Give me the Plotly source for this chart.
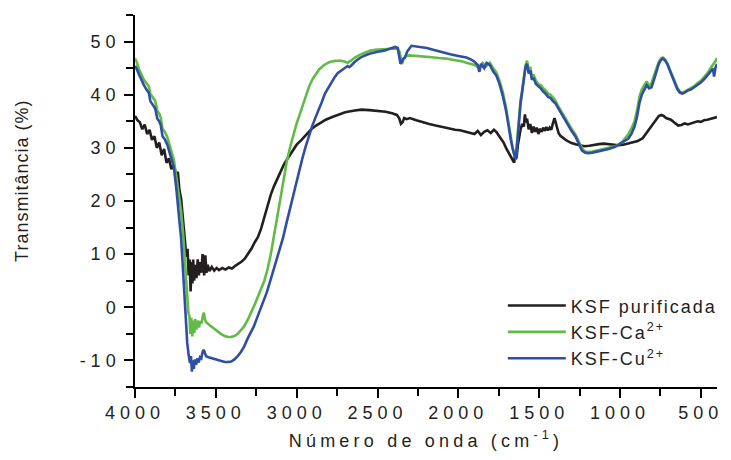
import plotly.graph_objects as go

# ---------------- data ----------------
x_black = [4000, 3985, 3970, 3955, 3940, 3925, 3910, 3895, 3880, 3865, 3850, 3835, 3820, 3805, 3790, 3775,
           3760, 3745, 3735, 3725, 3715, 3705, 3700, 3690, 3682, 3675, 3668, 3662, 3656, 3650, 3645, 3640,
           3634, 3628, 3620, 3612, 3605, 3598, 3590, 3582, 3572, 3565, 3558, 3550, 3540, 3525, 3510, 3495,
           3480, 3460, 3440, 3420, 3400, 3380, 3360, 3340, 3320, 3300, 3280, 3260, 3240, 3220, 3200, 3180,
           3160, 3140, 3120, 3100, 3080, 3060, 3040, 3020, 3000, 2970, 2940, 2910, 2880, 2850, 2820, 2780,
           2740, 2700, 2650, 2600, 2550, 2500, 2450, 2410, 2380, 2365, 2355, 2345, 2335, 2320, 2300, 2260,
           2220, 2180, 2140, 2100, 2060, 2020, 1990, 1960, 1930, 1900, 1880, 1860, 1840, 1820, 1800, 1780,
           1765, 1750, 1735, 1720, 1705, 1690, 1675, 1665, 1655, 1648, 1640, 1632, 1625, 1615, 1605, 1595,
           1588, 1582, 1575, 1565, 1555, 1545, 1535, 1525, 1515, 1505, 1495, 1485, 1475, 1465, 1455, 1445,
           1435, 1425, 1415, 1405, 1398, 1390, 1380, 1370, 1355, 1340, 1320, 1300, 1275, 1250, 1220, 1190,
           1160, 1130, 1100, 1070, 1040, 1010, 980, 950, 920, 890, 860, 840, 820, 805, 790, 775, 760, 745,
           730, 715, 700, 685, 670, 655, 640, 620, 600, 580, 560, 540, 520, 500, 480, 460, 440, 420, 400]
y_black = [36.0, 35.2, 34.8, 33.5, 34.4, 32.6, 33.4, 31.5, 32.2, 30.0, 31.0, 28.6, 29.8, 27.2, 28.0, 26.0,
           26.8, 24.8, 25.5, 22.0, 20.5, 17.0, 14.5, 12.0, 9.5, 11.0, 6.0, 9.0, 3.0, 8.5, 4.5, 9.0,
           5.0, 8.0, 5.5, 9.0, 6.0, 8.5, 6.5, 10.0, 6.0, 9.8, 6.5, 8.0, 6.8, 7.6, 6.9, 7.4,
           7.0, 7.4, 7.1, 7.5, 7.3, 7.8, 8.2, 8.6, 9.2, 10.0, 11.0, 12.2, 13.2, 14.8, 17.0, 19.2,
           21.2, 22.8, 24.2, 25.6, 26.8, 27.8, 28.8, 29.8, 30.6, 31.5, 32.6, 33.5, 34.2, 34.8, 35.3, 35.8,
           36.3, 36.7, 37.0, 37.2, 37.1, 37.0, 36.8, 36.5, 36.2, 35.5, 34.5, 34.8, 35.6, 35.4, 35.6, 35.2,
           34.8, 34.5, 34.2, 33.9, 33.7, 33.4, 33.3, 33.1, 32.8, 32.6, 33.2, 32.4, 33.0, 33.3, 32.8, 33.4,
           33.0, 32.3, 31.5, 31.0, 30.0, 29.2, 28.5, 27.8, 27.2, 29.0, 28.0, 30.5, 32.0, 33.5, 34.5, 34.0,
           36.3, 34.8, 35.5, 33.5, 34.5, 32.8, 34.0, 33.0, 33.8, 32.6, 33.6, 33.0, 33.8, 33.2, 33.9, 33.3,
           33.8, 33.4, 34.6, 35.6, 34.8, 33.6, 32.8, 32.3, 31.9, 31.6, 31.2, 30.9, 30.7, 30.5, 30.3, 30.4,
           30.6, 30.7, 30.8, 30.7, 30.6, 30.5, 30.6, 30.8, 31.0, 31.3, 31.8, 32.6, 33.5, 34.0, 34.6, 35.4, 36.0, 36.2,
           36.0, 35.6, 35.5, 35.3, 34.9, 34.5, 34.2, 34.3, 34.6, 34.4, 34.6, 34.8, 35.0, 34.9, 35.2, 35.3, 35.5, 35.7, 35.8]

x_ca = [4000, 3990, 3975, 3960, 3945, 3930, 3915, 3905, 3890, 3875, 3862, 3850, 3840, 3830, 3815, 3800,
        3787, 3775, 3760, 3745, 3735, 3725, 3715, 3700, 3690, 3680, 3670, 3663, 3658, 3652, 3646, 3640,
        3634, 3628, 3620, 3612, 3604, 3596, 3588, 3580, 3574, 3568, 3560, 3545, 3525, 3505, 3485, 3465,
        3445, 3425, 3405, 3385, 3365, 3345, 3325, 3300, 3280, 3260, 3240, 3220, 3200, 3180, 3160, 3140,
        3120, 3100, 3080, 3060, 3040, 3020, 3000, 2980, 2960, 2940, 2920, 2900, 2880, 2860, 2830, 2800,
        2760, 2725, 2700, 2685, 2665, 2640, 2610, 2580, 2545, 2500, 2450, 2400, 2380, 2365, 2355, 2348,
        2340, 2325, 2300, 2240, 2180, 2120, 2075, 2020, 1980, 1950, 1920, 1900, 1870, 1850, 1830, 1805,
        1785, 1765, 1745, 1725, 1705, 1690, 1675, 1665, 1655, 1645, 1635, 1625, 1615, 1605, 1595, 1585,
        1575, 1565, 1555, 1545, 1535, 1520, 1505, 1490, 1475, 1460, 1445, 1430, 1415, 1400, 1385, 1370,
        1355, 1340, 1320, 1300, 1275, 1255, 1235, 1215, 1195, 1170, 1140, 1110, 1070, 1030, 990, 950,
        930, 910, 895, 880, 865, 850, 835, 820, 805, 790, 775, 760, 745, 735, 720, 705, 690, 675, 660,
        645, 630, 615, 600, 580, 560, 540, 520, 500, 480, 460, 440, 425, 410, 400]
y_ca = [46.8, 46.2, 44.8, 43.8, 42.8, 42.2, 41.6, 40.2, 39.6, 38.8, 37.0, 36.4, 35.6, 33.6, 33.0, 32.0,
        30.6, 29.5, 27.8, 24.6, 22.5, 20.8, 18.2, 13.0, 8.0, 3.0, -1.0, -1.8, -5.0, -2.0, -5.5, -2.5,
        -4.8, -2.2, -4.2, -2.5, -3.8, -2.6, -3.0, -1.5, -1.0, -2.2, -2.8, -3.2, -3.7, -4.2, -4.7, -5.1,
        -5.4, -5.6, -5.6, -5.4, -5.0, -4.4, -3.6, -2.2, -1.0, 0.5, 2.0, 3.6, 5.0, 7.2, 10.0, 13.5,
        17.2, 21.0, 24.6, 27.6, 30.2, 32.6, 34.6, 36.4, 38.2, 39.8, 41.8, 43.0, 44.0, 44.8, 45.6, 46.1,
        46.4, 46.4, 46.2, 46.0, 46.4, 47.0, 47.5, 47.9, 48.3, 48.5, 48.6, 48.6, 48.7, 48.2, 46.5, 45.8,
        46.6, 47.3, 47.4, 47.3, 47.1, 46.9, 46.8, 46.5, 46.3, 46.0, 45.7, 45.6, 45.0, 46.0, 45.3, 46.0,
        45.0, 44.2, 42.6, 40.5, 37.6, 34.5, 31.8, 30.1, 28.8, 28.0, 32.0, 36.0, 39.0, 40.8, 43.5, 45.5,
        46.4, 44.8, 45.2, 43.4, 43.8, 42.6, 42.0, 41.8, 41.2, 40.8, 40.2, 40.0, 39.5, 38.9, 38.0, 37.2,
        36.4, 35.7, 34.6, 33.6, 32.5, 31.2, 29.9, 29.3, 29.2, 29.3, 29.5, 29.7, 29.9, 30.3, 31.0, 32.5,
        33.6, 35.0, 37.0, 39.6, 41.0, 41.8, 42.5, 41.6, 42.2, 43.6, 45.0, 46.2, 46.9, 47.0, 46.6, 45.8, 44.6, 43.5, 42.4,
        41.3, 40.6, 40.3, 40.6, 41.0, 41.3, 41.6, 42.2, 42.6, 43.3, 44.0, 45.0, 45.6, 46.3, 46.9]

x_cu = [4000, 3990, 3975, 3960, 3945, 3930, 3915, 3905, 3890, 3875, 3862, 3850, 3840, 3830, 3815, 3800,
        3787, 3775, 3760, 3745, 3735, 3725, 3715, 3705, 3697, 3688, 3677, 3668, 3660, 3654, 3648, 3642,
        3636, 3630, 3622, 3614, 3606, 3598, 3590, 3582, 3575, 3568, 3560, 3545, 3525, 3505, 3485, 3465,
        3445, 3425, 3405, 3385, 3365, 3345, 3325, 3305, 3285, 3265, 3245, 3225, 3205, 3185, 3165, 3145,
        3125, 3105, 3085, 3065, 3045, 3025, 3005, 2985, 2965, 2945, 2925, 2905, 2885, 2865, 2845, 2825,
        2805, 2785, 2765, 2745, 2720, 2700, 2685, 2675, 2665, 2640, 2610, 2585, 2550, 2500, 2460, 2420,
        2390, 2375, 2365, 2358, 2350, 2340, 2330, 2315, 2290, 2260, 2230, 2195, 2150, 2095, 2050, 2000,
        1950, 1920, 1900, 1880, 1870, 1860, 1840, 1825, 1805, 1785, 1765, 1745, 1725, 1705, 1690, 1675,
        1665, 1655, 1645, 1635, 1625, 1615, 1605, 1595, 1585, 1575, 1565, 1555, 1545, 1535, 1520, 1505,
        1490, 1475, 1460, 1445, 1430, 1415, 1400, 1385, 1370, 1355, 1340, 1320, 1300, 1275, 1255, 1235,
        1215, 1195, 1170, 1140, 1110, 1070, 1030, 990, 960, 950, 930, 910, 895, 880, 865, 850, 835, 820,
        805, 790, 775, 760, 745, 735, 720, 705, 690, 675, 660, 645, 630, 615, 600, 580, 560, 540, 520,
        500, 480, 460, 440, 425, 418, 410, 400]
y_cu = [45.4, 44.9, 43.8, 42.6, 41.8, 41.0, 40.4, 38.8, 38.2, 37.4, 35.5, 35.0, 34.2, 32.2, 31.6, 30.6,
        29.2, 28.0, 26.4, 22.5, 19.5, 17.0, 13.0, 8.0, 3.3, -2.0, -6.7, -9.0, -10.5, -9.2, -12.1, -10.0,
        -11.6, -9.8, -10.8, -9.6, -10.4, -9.4, -9.6, -8.4, -8.0, -8.6, -9.2, -9.4, -9.6, -9.8, -10.0, -10.2,
        -10.3, -10.3, -10.2, -9.8, -9.2, -8.4, -7.4, -6.0, -4.8, -3.6, -2.0, -0.4, 1.2, 2.8, 4.8, 6.8,
        8.8, 11.0, 13.0, 15.6, 18.2, 20.6, 23.2, 25.6, 28.0, 30.2, 32.2, 34.0, 35.6, 37.0, 38.6, 40.2,
        41.3, 42.4, 43.3, 44.1, 44.7, 45.2, 45.4, 45.2, 45.4, 46.2, 46.9, 47.3, 47.7, 48.1, 48.3, 48.7,
        49.0, 48.8, 47.0, 45.8, 46.2, 46.8, 47.0, 48.2, 49.2, 49.1, 48.9, 48.8, 48.4, 47.9, 47.6, 47.3,
        47.0, 46.6, 46.2, 45.6, 44.3, 45.8, 45.0, 46.0, 45.6, 44.4, 43.6, 42.0, 39.8, 37.0, 33.8, 31.5,
        30.0, 28.6, 27.8, 31.0, 35.0, 38.4, 40.6, 43.0, 45.1, 45.8, 44.0, 44.6, 42.8, 43.2, 42.0, 41.6,
        41.2, 40.6, 40.2, 39.6, 39.4, 38.8, 38.4, 37.6, 36.8, 36.0, 35.2, 34.2, 33.2, 32.1, 30.8, 29.5,
        29.1, 29.0, 29.1, 29.3, 29.5, 29.8, 30.2, 30.9, 31.4, 31.7, 32.6, 34.0, 35.8, 38.4, 40.0, 41.0, 41.8, 41.2,
        41.4, 42.8, 44.4, 45.8, 46.6, 46.8, 46.4, 45.6, 44.4, 43.2, 42.0, 41.0, 40.4, 40.2, 40.4, 40.8, 41.0, 41.4, 41.8,
        42.3, 42.9, 43.6, 44.5, 44.9, 43.4, 45.0, 45.8]

series_names = ["KSF purificada", "KSF-Ca<sup>2+</sup>", "KSF-Cu<sup>2+</sup>"]
series_colors = ["#231f20", "#62bb46", "#2f4fa3"]

x_tickvals = [4000, 3500, 3000, 2500, 2000, 1500, 1000, 500]
y_tickvals = [-10, 0, 10, 20, 30, 40, 50]

# ---------------- figure ----------------
FONT = "Liberation Sans, Arial, sans-serif"
TXT = "#231f20"


def spaced(s, ls):
    return f'<span style="letter-spacing:{ls}px">{s}</span>'


fig = go.Figure()
for xs, ys, name, col in zip([x_black, x_ca, x_cu], [y_black, y_ca, y_cu], series_names, series_colors):
    fig.add_trace(go.Scatter(x=xs, y=ys, mode="lines", name=spaced(name, 2),
                             line=dict(color=col, width=2.6), legendgroup=name))

axis_common = dict(showline=True, linecolor="black", linewidth=1.5, ticks="outside", ticklen=9,
                   tickwidth=1.5, tickcolor="black", showgrid=False, zeroline=False, mirror=False,
                   automargin=False, tickfont=dict(family=FONT, size=18, color=TXT))

fig.update_layout(
    template="none",
    width=731, height=460,
    margin=dict(l=135, r=8, t=15, b=73),
    paper_bgcolor="white", plot_bgcolor="white",
    font=dict(family=FONT, size=18, color=TXT),
    showlegend=True,
    legend=dict(x=1.010, y=0.268, xanchor="right", yanchor="top", bgcolor="rgba(0,0,0,0)",
                borderwidth=0, tracegroupgap=0, itemwidth=58,
                font=dict(family=FONT, size=18, color=TXT)),
    xaxis=dict(range=[4000, 400], tickmode="array", tickvals=x_tickvals,
               ticktext=[spaced(str(v), 5) for v in x_tickvals],
               minor=dict(ticks="outside", ticklen=7, tickwidth=1.5, tickcolor="black", dtick=250, tick0=0),
               title=dict(text=spaced("Número de onda (cm<sup>-1</sup>)", 4.2), standoff=12,
                          font=dict(family=FONT, size=18, color=TXT)),
               **axis_common),
    yaxis=dict(range=[-15, 55], tickmode="array", tickvals=y_tickvals,
               ticktext=[spaced(str(v), 5) for v in y_tickvals],
               minor=dict(ticks="outside", ticklen=7, tickwidth=1.5, tickcolor="black", dtick=5, tick0=0),
               **axis_common),
    annotations=[dict(text=spaced("Transmitância (%)", 1), xref="paper", yref="paper",
                      x=0, y=0.554, xanchor="center", yanchor="middle", xshift=-113,
                      textangle=-90, showarrow=False, font=dict(family=FONT, size=18, color=TXT))],
)

fig.write_html("out.html")
